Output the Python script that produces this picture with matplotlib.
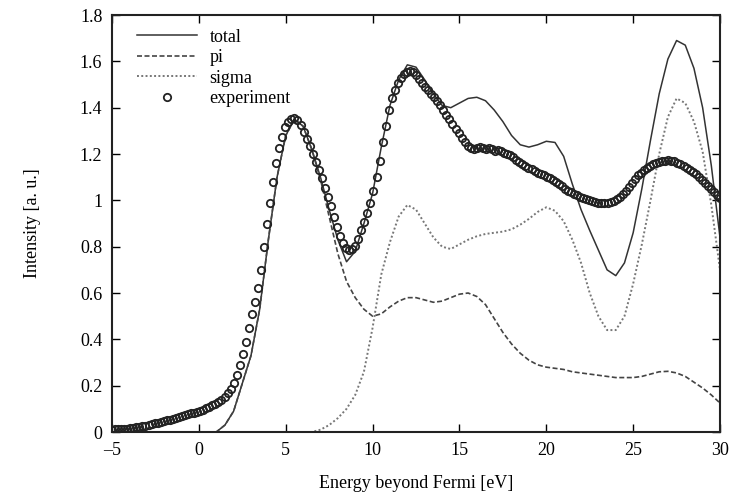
import numpy as np
import matplotlib
matplotlib.use("Agg")
import matplotlib.pyplot as plt
from matplotlib.ticker import FuncFormatter, MultipleLocator

plt.rcParams['font.family'] = ['Liberation Serif', 'DejaVu Serif']
plt.rcParams['font.size'] = 13

theory_x = np.arange(0.5, 30.01, 0.5)
total = [0.0, 0.0, 0.03, 0.09, 0.21, 0.33, 0.53, 0.83, 1.10, 1.28,
         1.35, 1.32, 1.22, 1.10, 0.96, 0.83, 0.735, 0.78, 0.90, 1.03,
         1.23, 1.41, 1.52, 1.585, 1.575, 1.52, 1.46, 1.41, 1.40, 1.42,
         1.44, 1.445, 1.43, 1.39, 1.34, 1.28, 1.24, 1.23, 1.24, 1.255,
         1.25, 1.19, 1.07, 0.96, 0.87, 0.785, 0.70, 0.675, 0.73, 0.86,
         1.05, 1.26, 1.46, 1.61, 1.69, 1.67, 1.57, 1.40, 1.15, 0.84]
pi = [0.0, 0.0, 0.03, 0.09, 0.21, 0.33, 0.53, 0.83, 1.10, 1.28,
      1.35, 1.32, 1.22, 1.09, 0.93, 0.77, 0.65, 0.58, 0.53, 0.50,
      0.51, 0.54, 0.565, 0.58, 0.58, 0.57, 0.56, 0.565, 0.58, 0.595,
      0.60, 0.585, 0.55, 0.49, 0.43, 0.38, 0.34, 0.31, 0.29, 0.28,
      0.275, 0.27, 0.26, 0.255, 0.25, 0.245, 0.24, 0.235, 0.235, 0.235,
      0.24, 0.25, 0.26, 0.262, 0.255, 0.24, 0.215, 0.19, 0.16, 0.125]
sigma = [0.0, 0.0, 0.0, 0.0, 0.0, 0.0, 0.0, 0.0, 0.0, 0.0,
         0.0, 0.0, 0.0, 0.01, 0.03, 0.06, 0.10, 0.16, 0.26, 0.45,
         0.68, 0.82, 0.93, 0.98, 0.96, 0.90, 0.84, 0.80, 0.79, 0.81,
         0.83, 0.845, 0.855, 0.86, 0.865, 0.875, 0.895, 0.92, 0.95, 0.97,
         0.955, 0.91, 0.83, 0.73, 0.60, 0.50, 0.44, 0.44, 0.50, 0.64,
         0.81, 1.00, 1.20, 1.36, 1.44, 1.42, 1.34, 1.21, 0.98, 0.70]

# experiment, one point every 0.175 eV
exp_x = np.linspace(-5, 30, 201)
exp_y = [0.010, 0.011, 0.012, 0.013, 0.014, 0.015, 0.016, 0.018, 0.020, 0.022,
         0.025, 0.028, 0.031, 0.034, 0.037, 0.040, 0.043, 0.047, 0.050, 0.053,
         0.057, 0.060, 0.064, 0.068, 0.072, 0.076, 0.080, 0.084, 0.088, 0.092,
         0.097, 0.102, 0.108, 0.115, 0.122, 0.130, 0.140, 0.152, 0.167, 0.185,
         0.210, 0.245, 0.290, 0.335, 0.390, 0.450, 0.510, 0.560, 0.620, 0.700,
         0.800, 0.900, 0.990, 1.080, 1.160, 1.225, 1.275, 1.315, 1.340, 1.352,
         1.354, 1.345, 1.325, 1.295, 1.265, 1.235, 1.200, 1.165, 1.130, 1.095,
         1.055, 1.015, 0.975, 0.930, 0.885, 0.845, 0.815, 0.795, 0.785, 0.790,
         0.805, 0.835, 0.870, 0.905, 0.945, 0.990, 1.040, 1.100, 1.170, 1.250,
         1.320, 1.390, 1.440, 1.475, 1.505, 1.530, 1.545, 1.555, 1.560, 1.555,
         1.540, 1.525, 1.505, 1.490, 1.475, 1.460, 1.445, 1.430, 1.410, 1.390,
         1.370, 1.350, 1.330, 1.310, 1.290, 1.270, 1.250, 1.235, 1.225, 1.220,
         1.225, 1.230, 1.225, 1.220, 1.228, 1.222, 1.215, 1.218, 1.212, 1.205,
         1.200, 1.195, 1.185, 1.175, 1.165, 1.155, 1.150, 1.140, 1.135, 1.128,
         1.120, 1.115, 1.110, 1.100, 1.095, 1.088, 1.080, 1.070, 1.060, 1.050,
         1.042, 1.035, 1.028, 1.022, 1.015, 1.010, 1.005, 1.000, 0.997, 0.993,
         0.990, 0.988, 0.988, 0.990, 0.993, 0.998, 1.005, 1.015, 1.028, 1.042,
         1.058, 1.075, 1.092, 1.108, 1.120, 1.130, 1.140, 1.148, 1.155, 1.160,
         1.165, 1.170, 1.172, 1.173, 1.172, 1.168, 1.162, 1.155, 1.148, 1.140,
         1.132, 1.122, 1.112, 1.100, 1.088, 1.075, 1.062, 1.048, 1.035, 1.022,
         1.010]

fig = plt.figure(figsize=(7.39, 5.01), dpi=100)
ax = fig.add_axes([0.1516, 0.1377, 0.8227, 0.8323])

ax.plot(theory_x, total, color="#333333", lw=1.1, ls="-", label="total")
ax.plot(theory_x, pi, color="#444444", lw=1.2, ls=(0, (3, 1.5)), label="pi")
ax.plot(theory_x, sigma, color="#777777", lw=1.4, ls=(0, (1, 1.2)), label="sigma")
ax.plot(exp_x, exp_y, ls="none", marker="o", ms=5.3, mfc="none", mec="#222222",
        mew=1.3, label="experiment")

ax.set_xlim(-5, 30)
ax.set_ylim(0, 1.8)
ax.xaxis.set_major_locator(MultipleLocator(5))
ax.yaxis.set_major_locator(MultipleLocator(0.2))
fmt = FuncFormatter(lambda v, p: ("%g" % round(v, 2)).replace("-", "\u2013"))
ax.xaxis.set_major_formatter(fmt)
ax.yaxis.set_major_formatter(fmt)
ax.tick_params(direction="in", length=6, width=1.0, top=True, right=True, pad=7)
for s in ax.spines.values():
    s.set_linewidth(1.5)
    s.set_color("#222222")

ax.set_xlabel("Energy beyond Fermi [eV]", labelpad=12)
ax.set_ylabel("Intensity [a. u.]", labelpad=28)

ax.legend(loc="upper left", bbox_to_anchor=(0.03, 0.985), frameon=False,
          handlelength=3.3, handletextpad=0.7, labelspacing=0.2, borderaxespad=0)

fig.savefig("out.png", dpi=100)
